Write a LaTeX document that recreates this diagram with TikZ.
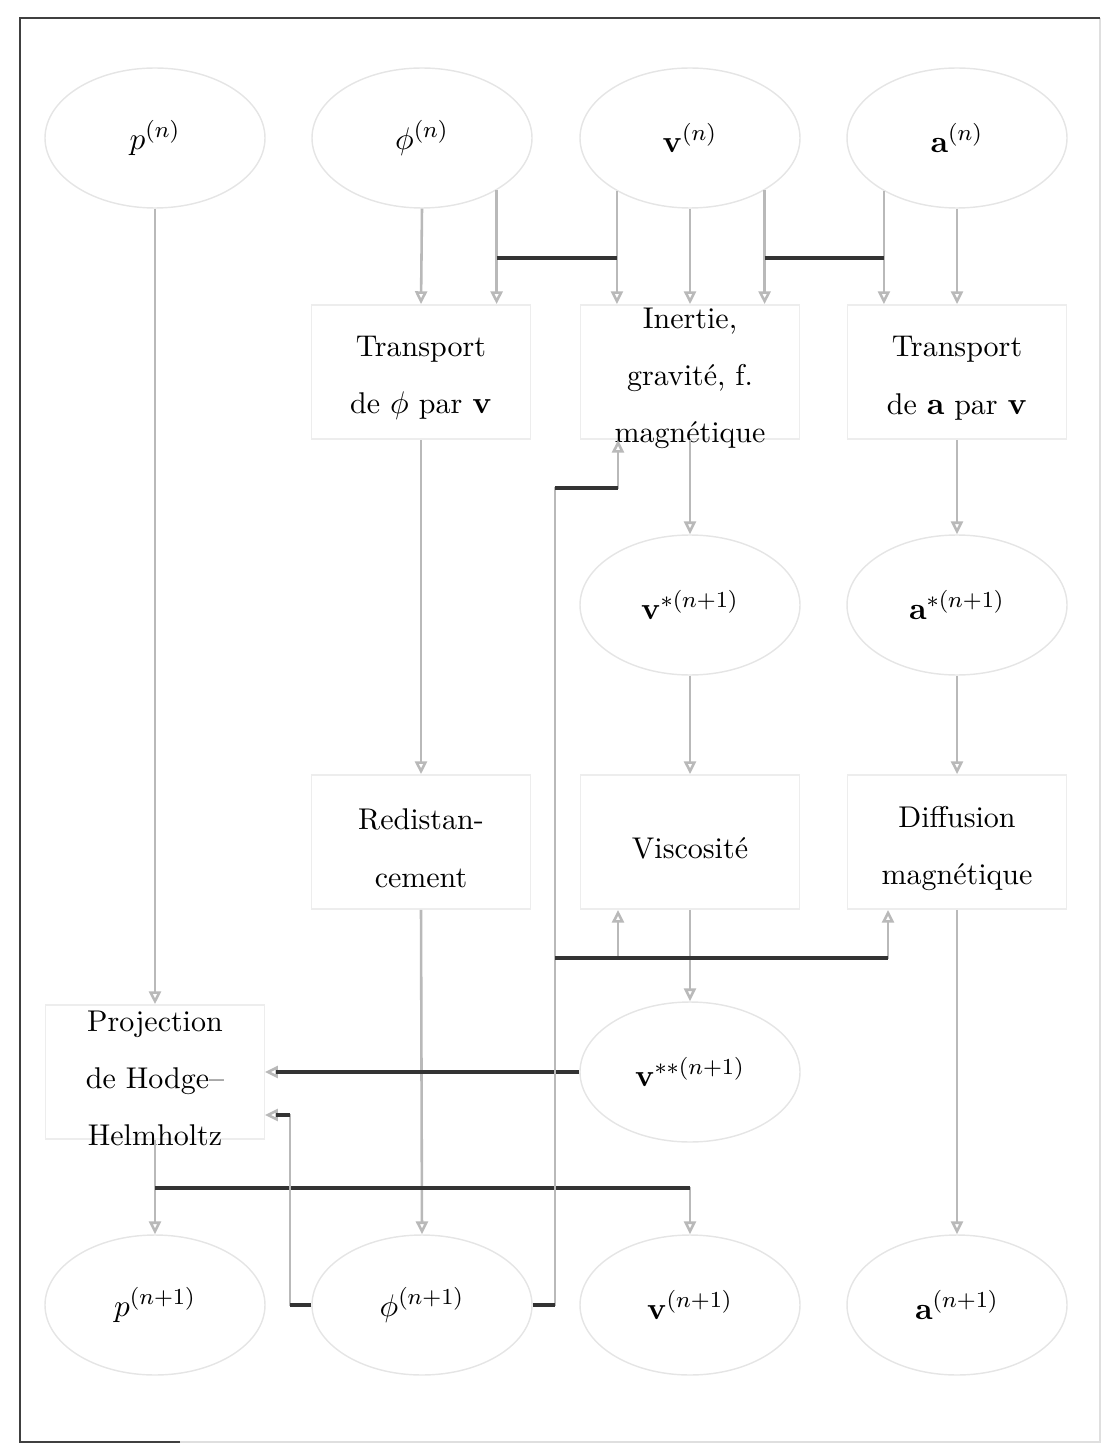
\documentclass[tikz,border=0pt]{standalone}
\usetikzlibrary{arrows.meta,shapes.geometric}
\DeclareMathSizes{10.5}{10.5}{8.2}{6.5}
\begin{document}
\begin{tikzpicture}[x=0.35pt,y=-0.35pt,
  every node/.style={font=\fontsize{10.5}{20}\selectfont},
  ell/.style={ellipse,draw=gray!20,line width=0.5pt,minimum width=77pt,minimum height=49pt,inner sep=0pt},
  boxst/.style={rectangle,draw=gray!14,line width=0.5pt,minimum width=76.5pt,minimum height=47pt,inner sep=0pt},
  txt/.style={align=center,inner sep=0pt,yshift=-2.2pt},
  conn/.style={draw=gray!55,line width=0.9pt,-{Triangle[open,width=4.2pt,length=4.5pt]}},
  hseg/.style={draw=black!80,line width=1.2pt},
  frm/.style={draw=black!75,line width=0.8pt},
  frmlight/.style={draw=gray!25,line width=0.5pt}
]
\useasboundingbox (0,0) rectangle (1106,1450);
% frame
\draw[frmlight] (20,1442) -- (1100,1442) -- (1100,18);
\draw[frm] (180,1442) -- (20,1442) -- (20,18) -- (1100,18);

% row 1
\node[ell] (p0) at (155,138) {$p^{(n)}$};
\node[ell] (phi0) at (422,138) {$\phi^{(n)}$};
\node[ell] (v0) at (690,138) {$\mathbf{v}^{(n)}$};
\node[ell] (a0) at (957,138) {$\mathbf{a}^{(n)}$};

% row 2
\node[boxst] (tphi) at (421,372) {};
\node[txt] (tphiT) at (tphi) {Transport\\de $\phi$ par $\mathbf{v}$};
\node[boxst] (inert) at (690,372) {};
\node[txt] (inertT) at (inert) {Inertie,\\gravité, f.\\magnétique};
\node[boxst] (ta) at (957,372) {};
\node[txt] (taT) at (ta) {Transport\\de $\mathbf{a}$ par $\mathbf{v}$};

% row 3
\node[ell] (vstar) at (690,605) {$\mathbf{v}^{*(n+1)}$};
\node[ell] (astar) at (957,605) {$\mathbf{a}^{*(n+1)}$};

% row 4
\node[boxst] (redist) at (421,842) {};
\node[txt] (redistT) at (redist) {Redistan-\\cement};
\node[boxst] (visc) at (690,842) {};
\node[txt] (viscT) at (visc) {Viscosité};
\node[boxst] (diff) at (957,842) {};
\node[txt] (diffT) at (diff) {Diffusion\\magnétique};

% row 5
\node[boxst] (proj) at (155,1072) {};
\node[txt] (projT) at (proj) {Projection\\de Hodge--\\Helmholtz};
\node[ell] (vss) at (690,1072) {$\mathbf{v}^{**(n+1)}$};

% row 6
\node[ell] (p1) at (155,1305) {$p^{(n+1)}$};
\node[ell] (phi1) at (422,1305) {$\phi^{(n+1)}$};
\node[ell] (v1) at (690,1305) {$\mathbf{v}^{(n+1)}$};
\node[ell] (a1) at (957,1305) {$\mathbf{a}^{(n+1)}$};

% helper coordinates
\coordinate (hl) at (0,258);
\coordinate (cr) at (555,488);
\coordinate (cu) at (618,488);
\coordinate (cm) at (555,958);
\coordinate (cv) at (618,958);
\coordinate (cd) at (888,958);
\coordinate (cl) at (290,1115);
\coordinate (hb) at (0,1188);

% straight vertical connectors
\draw[conn] (p0.south) -- (proj.north);
\draw[conn] (phi0.south) -- (tphi.north);
\draw[conn] (v0.south) -- (inert.north);
\draw[conn] (a0.south) -- (ta.north);
\draw[conn] (tphi.south) -- (redist.north);
\draw[conn] (inert.south) -- (vstar.north);
\draw[conn] (ta.south) -- (astar.north);
\draw[conn] (vstar.south) -- (visc.north);
\draw[conn] (astar.south) -- (diff.north);
\draw[conn] (redist.south) -- (phi1.north);
\draw[conn] (visc.south) -- (vss.north);
\draw[conn] (diff.south) -- (a1.north);
\draw[conn] (proj.south) -- (p1.north);

% cross connectors at the top
\draw[conn] (phi0.-35.5) -- (phi0.-35.5 |- hl) -- (v0.-144.5 |- hl) -- (v0.-144.5 |- inert.north);
\draw[conn] (v0.-144.5) -- (v0.-144.5 |- hl) -- (phi0.-35.5 |- hl) -- (phi0.-35.5 |- tphi.north);
\draw[conn] (v0.-35.5) -- (v0.-35.5 |- hl) -- (a0.-144.5 |- hl) -- (a0.-144.5 |- ta.north);
\draw[conn] (a0.-144.5) -- (a0.-144.5 |- hl) -- (v0.-35.5 |- hl) -- (v0.-35.5 |- inert.north);
\draw[hseg] (phi0.-35.5 |- hl) -- (v0.-144.5 |- hl);
\draw[hseg] (v0.-35.5 |- hl) -- (a0.-144.5 |- hl);

% v** -> projection
\draw[conn] (vss.west) -- (proj.east);
\draw[hseg,shorten >=4pt] (vss.west) -- (proj.east);

% projection -> v(n+1)
\draw[conn] (proj.south |- hb) -- (v1.north |- hb) -- (v1.north);
\draw[hseg] (proj.south |- hb) -- (v1.north |- hb);

% phi(n+1) -> projection
\draw[conn] (phi1.west) -| (cl) -- (proj.east |- cl);
\draw[hseg] (phi1.west) -- (cl |- phi1.west);
\draw[hseg,shorten >=4pt] (cl) -- (proj.east |- cl);

% phi(n+1) -> inertie, viscosite, diffusion
\draw[conn] (phi1.east) -| (cr) -- (cu) -- (cu |- inert.south);
\draw[conn] (phi1.east) -| (cm) -- (cv) -- (cv |- visc.south);
\draw[conn] (phi1.east) -| (cm) -- (cd) -- (cd |- diff.south);
\draw[hseg] (phi1.east) -- (cr |- phi1.east);
\draw[hseg] (cr) -- (cu);
\draw[hseg] (cm) -- (cd);
\end{tikzpicture}
\end{document}
